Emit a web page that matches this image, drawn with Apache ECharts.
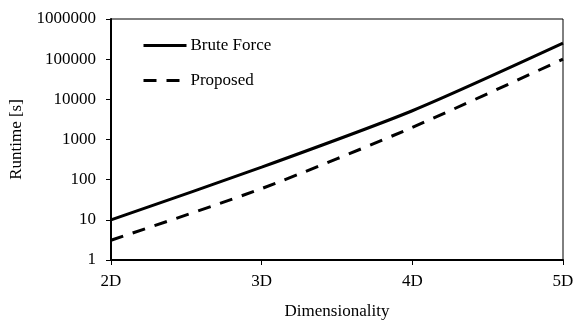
<!DOCTYPE html>
<html>
<head>
<meta charset="utf-8">
<script src="https://cdn.jsdelivr.net/npm/echarts@6/dist/echarts.min.js"></script>
<style>html,body{margin:0;padding:0;background:#fff;}#c{width:575px;height:320px;}</style>
</head>
<body>
<div id="c"></div>
<script>
var categories = ['2D', '3D', '4D', '5D'];
var bruteForce = [10, 205, 5200, 250000];
var proposed = [3.1, 60, 2000, 100000];
var seriesNames = ['Brute Force', 'Proposed'];

var FONT = 'Liberation Serif';
var FS = 17;
var chart = echarts.init(document.getElementById('c'), null, {renderer: 'canvas'});
chart.setOption({
  animation: false,
  backgroundColor: '#fff',
  textStyle: {fontFamily: FONT, color: '#000'},
  grid: {left: 111, right: 12, top: 19, bottom: 60, show: true, borderColor: '#000', borderWidth: 1,
         outerBoundsMode: 'none', containLabel: false},
  legend: {
    orient: 'vertical', left: 142, top: 37, padding: 0, itemGap: 18, itemWidth: 43, itemHeight: 14,
    itemStyle: {opacity: 0},
    lineStyle: {width: 3},
    textStyle: {fontFamily: FONT, fontSize: FS, color: '#000', padding: [0,0,0,-1]},
    data: seriesNames
  },
  xAxis: {
    type: 'category', data: categories, boundaryGap: false,
    name: 'Dimensionality', nameLocation: 'middle', nameGap: 43,
    nameTextStyle: {fontFamily: FONT, fontSize: FS, color: '#000'},
    axisLine: {lineStyle: {color: '#000', width: 2}},
    axisTick: {show: true, inside: false, length: 5, lineStyle: {color: '#000', width: 1}},
    axisLabel: {fontFamily: FONT, fontSize: FS, color: '#000', margin: 13},
    splitLine: {show: false}
  },
  yAxis: {
    type: 'log', logBase: 10, min: 1, max: 1000000,
    name: 'Runtime [s]', nameLocation: 'middle', nameGap: 86,
    nameTextStyle: {fontFamily: FONT, fontSize: FS, color: '#000'},
    axisLine: {show: true, lineStyle: {color: '#000', width: 2}},
    axisTick: {show: true, inside: false, length: 5, lineStyle: {color: '#000', width: 1}},
    axisLabel: {fontFamily: FONT, fontSize: FS, color: '#000', margin: 15,
      formatter: function (v) { return String(Math.round(v)); }},
    splitLine: {show: false}
  },
  series: [
    {name: seriesNames[0], type: 'line', data: bruteForce, smooth: 0.25, symbol: 'none',
     lineStyle: {color: '#000', width: 3, type: 'solid'}, itemStyle: {color: '#000'}},
    {name: seriesNames[1], type: 'line', data: proposed, smooth: 0.25, symbol: 'none',
     lineStyle: {color: '#000', width: 3, type: [13, 10]}, itemStyle: {color: '#000'}}
  ]
});
</script>
</body>
</html>
